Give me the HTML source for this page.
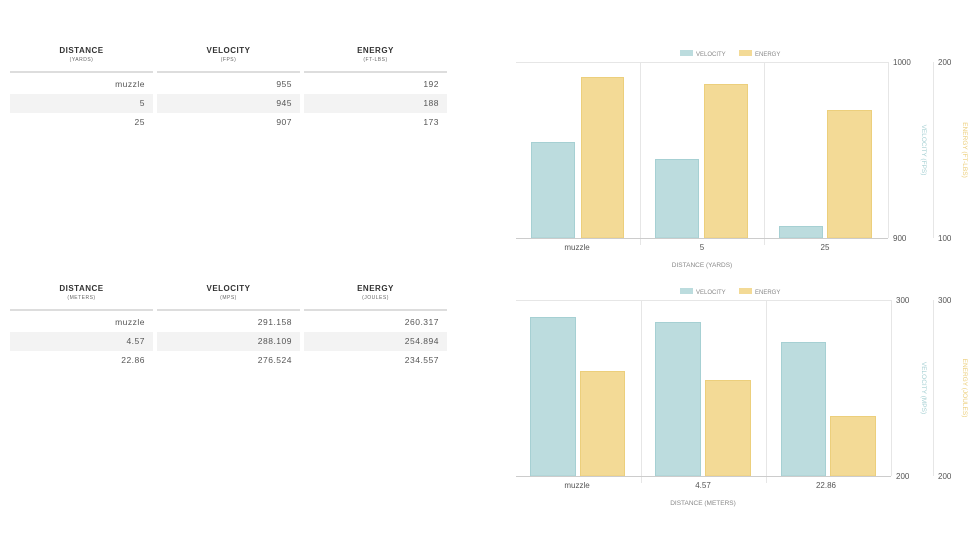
<!DOCTYPE html>
<html><head><style>
body{margin:0;background:#fff;font-family:"Liberation Sans",sans-serif;}
.t{position:absolute;left:10px;width:438px;font-size:9px;color:#555;}
.h{position:absolute;text-align:center;width:143px;}
.h b{display:block;font-size:8px;color:#333;letter-spacing:.5px}
.h i{display:block;font-style:normal;font-size:5px;color:#666;margin-top:2px;letter-spacing:.5px}
.c{position:absolute;width:143px;height:19px;line-height:19px;text-align:right;box-sizing:border-box;padding-right:8px;font-size:8.5px;color:#555;letter-spacing:.5px}
.ln{position:absolute;height:2px;background:#ddd;width:143px}
.s{background:#f3f3f3}
</style></head><body>
<div style="position:absolute;left:0;top:0;width:978px;height:550px">
<!-- table1 -->
<div class="h" style="left:10px;top:46px"><b>DISTANCE</b><i>(YARDS)</i></div>
<div class="h" style="left:157px;top:46px"><b>VELOCITY</b><i>(FPS)</i></div>
<div class="h" style="left:304px;top:46px"><b>ENERGY</b><i>(FT-LBS)</i></div>
<div class="ln" style="left:10px;top:71px"></div><div class="ln" style="left:157px;top:71px"></div><div class="ln" style="left:304px;top:71px"></div>
<div class="c" style="left:10px;top:75px">muzzle</div><div class="c" style="left:157px;top:75px">955</div><div class="c" style="left:304px;top:75px">192</div>
<div class="c s" style="left:10px;top:94px">5</div><div class="c s" style="left:157px;top:94px">945</div><div class="c s" style="left:304px;top:94px">188</div>
<div class="c" style="left:10px;top:113px">25</div><div class="c" style="left:157px;top:113px">907</div><div class="c" style="left:304px;top:113px">173</div>
<!-- table2 -->
<div class="h" style="left:10px;top:284px"><b>DISTANCE</b><i>(METERS)</i></div>
<div class="h" style="left:157px;top:284px"><b>VELOCITY</b><i>(MPS)</i></div>
<div class="h" style="left:304px;top:284px"><b>ENERGY</b><i>(JOULES)</i></div>
<div class="ln" style="left:10px;top:309px"></div><div class="ln" style="left:157px;top:309px"></div><div class="ln" style="left:304px;top:309px"></div>
<div class="c" style="left:10px;top:313px">muzzle</div><div class="c" style="left:157px;top:313px">291.158</div><div class="c" style="left:304px;top:313px">260.317</div>
<div class="c s" style="left:10px;top:332px">4.57</div><div class="c s" style="left:157px;top:332px">288.109</div><div class="c s" style="left:304px;top:332px">254.894</div>
<div class="c" style="left:10px;top:351px">22.86</div><div class="c" style="left:157px;top:351px">276.524</div><div class="c" style="left:304px;top:351px">234.557</div>
</div>
<svg width="978" height="550" style="position:absolute;left:0;top:0" font-family="Liberation Sans, sans-serif">
<g font-size="6" fill="#888">
<rect x="680" y="50" width="13" height="6" fill="#bcdcde"/><text x="696" y="56">VELOCITY</text>
<rect x="739" y="50" width="13" height="6" fill="#f3da96"/><text x="755" y="56">ENERGY</text>
<rect x="680" y="288" width="13" height="6" fill="#bcdcde"/><text x="696" y="294">VELOCITY</text>
<rect x="739" y="288" width="13" height="6" fill="#f3da96"/><text x="755" y="294">ENERGY</text>
</g>
<g stroke="#e6e6e6" stroke-width="1">
<line x1="516" y1="62.5" x2="888" y2="62.5"/><line x1="640.5" y1="62" x2="640.5" y2="245"/><line x1="764.5" y1="62" x2="764.5" y2="245"/>
<line x1="888.5" y1="62" x2="888.5" y2="238"/><line x1="933.5" y1="62" x2="933.5" y2="238"/>
<line x1="516" y1="300.5" x2="891" y2="300.5"/><line x1="641.5" y1="300" x2="641.5" y2="483"/><line x1="766.5" y1="300" x2="766.5" y2="483"/>
<line x1="891.5" y1="300" x2="891.5" y2="476"/><line x1="933.5" y1="300" x2="933.5" y2="476"/>
</g>
<g stroke-width="1">
<rect x="531.5" y="142.5" width="43" height="95.5" fill="#bcdcde" stroke="#a6d0d3"/>
<rect x="581.5" y="77.5" width="42" height="160.5" fill="#f3da96" stroke="#eccf7c"/>
<rect x="655.5" y="159.5" width="43" height="78.5" fill="#bcdcde" stroke="#a6d0d3"/>
<rect x="704.5" y="84.5" width="43" height="153.5" fill="#f3da96" stroke="#eccf7c"/>
<rect x="779.5" y="226.5" width="43" height="11.5" fill="#bcdcde" stroke="#a6d0d3"/>
<rect x="827.5" y="110.5" width="44" height="127.5" fill="#f3da96" stroke="#eccf7c"/>
<rect x="530.5" y="317.5" width="45" height="158.5" fill="#bcdcde" stroke="#a6d0d3"/>
<rect x="580.5" y="371.5" width="44" height="104.5" fill="#f3da96" stroke="#eccf7c"/>
<rect x="655.5" y="322.5" width="45" height="153.5" fill="#bcdcde" stroke="#a6d0d3"/>
<rect x="705.5" y="380.5" width="45" height="95.5" fill="#f3da96" stroke="#eccf7c"/>
<rect x="781.5" y="342.5" width="44" height="133.5" fill="#bcdcde" stroke="#a6d0d3"/>
<rect x="830.5" y="416.5" width="45" height="59.5" fill="#f3da96" stroke="#eccf7c"/>
</g>
<line x1="516" y1="238.5" x2="888" y2="238.5" stroke="#ccc"/>
<line x1="516" y1="476.5" x2="891" y2="476.5" stroke="#ccc"/>
<g font-size="8" fill="#555" text-anchor="middle">
<text x="577" y="250">muzzle</text><text x="702" y="250">5</text><text x="825" y="250">25</text>
<text x="577" y="488">muzzle</text><text x="703" y="488">4.57</text><text x="826" y="488">22.86</text>
</g>
<g font-size="6.5" fill="#888" text-anchor="middle">
<text x="702" y="267">DISTANCE (YARDS)</text><text x="703" y="505">DISTANCE (METERS)</text>
</g>
<g font-size="8" fill="#555">
<text x="893" y="65">1000</text><text x="893" y="241">900</text>
<text x="938" y="65">200</text><text x="938" y="241">100</text>
<text x="896" y="303">300</text><text x="896" y="479">200</text>
<text x="938" y="303">300</text><text x="938" y="479">200</text>
</g>
<g font-size="6.5" text-anchor="middle">
<text transform="translate(922,150) rotate(90)" fill="#a6d0d3">VELOCITY (FPS)</text>
<text transform="translate(963,150) rotate(90)" fill="#eccf7c">ENERGY (FT-LBS)</text>
<text transform="translate(922,388) rotate(90)" fill="#a6d0d3">VELOCITY (MPS)</text>
<text transform="translate(963,388) rotate(90)" fill="#eccf7c">ENERGY (JOULES)</text>
</g>
</svg>
</body></html>
